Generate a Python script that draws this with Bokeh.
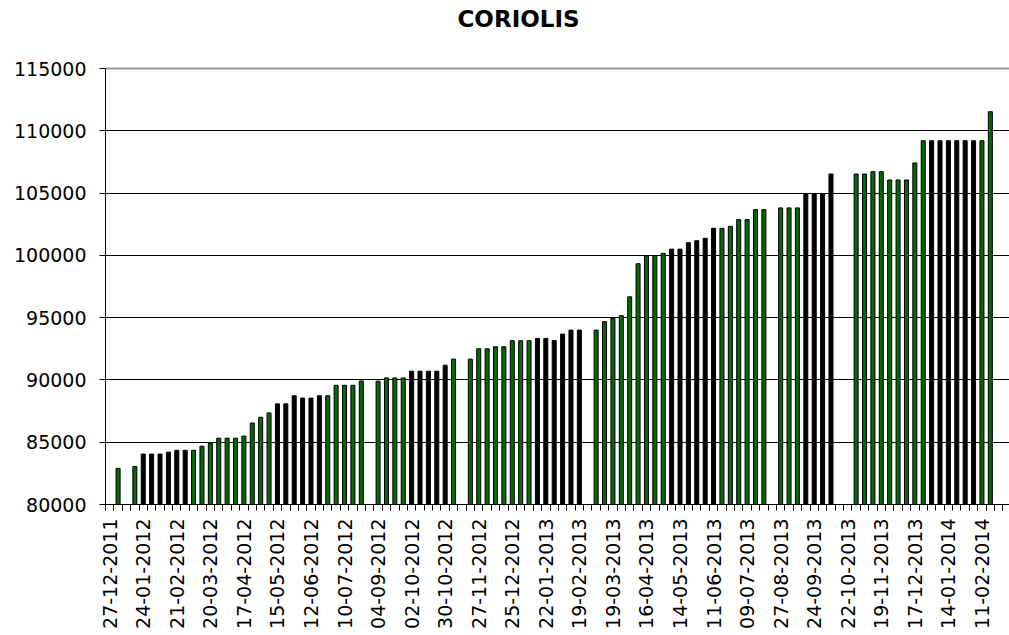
import math
from bokeh.plotting import figure
from bokeh.models import Range1d, FixedTicker, Span, BasicTickFormatter, ColumnDataSource, Label
from bokeh.embed import file_html
from bokeh.resources import INLINE

# ---- data -------------------------------------------------------------
title_text = "CORIOLIS"

# labels shown on the category axis (every 4th category)
tick_dates = [
    "27-12-2011", "24-01-2012", "21-02-2012", "20-03-2012", "17-04-2012",
    "15-05-2012", "12-06-2012", "10-07-2012", "04-09-2012", "02-10-2012",
    "30-10-2012", "27-11-2012", "25-12-2012", "22-01-2013", "19-02-2013",
    "19-03-2013", "16-04-2013", "14-05-2013", "11-06-2013", "09-07-2013",
    "27-08-2013", "24-09-2013", "22-10-2013", "19-11-2013", "17-12-2013",
    "14-01-2014", "11-02-2014",
]

# one value per weekly category (None = no value that week)
values = [
    None, 82900, None, 83050, 84050, 84050, 84050, 84200, 84350, 84350,
    84350, 84680, 84920, 85320, 85320, 85320, 85490, 86540, 87000, 87350,
    88080, 88080, 88730, 88540, 88540, 88730, 88730, 89570, 89570, 89570,
    89920, None, 89900, 90160, 90160, 90160, 90700, 90700, 90700, 90700,
    91180, 91670, None, 91670, 92500, 92500, 92660, 92660, 93150, 93150,
    93150, 93330, 93330, 93170, 93680, 94000, 94000, None, 94000, 94680,
    94950, 95160, 96670, 99330, 99970, 99970, 100160, 100500, 100500, 101020,
    101180, 101370, 102170, 102170, 102330, 102870, 102870, 103670, 103670, None,
    103810, 103810, 103810, 104970, 104970, 104970, 106530, None, None, 106530,
    106530, 106720, 106720, 106050, 106050, 106050, 107420, 109200, 109200, 109200,
    109200, 109200, 109200, 109200, 109200, 111530, None,
]

# value axis
axis_min, axis_max, axis_step = 80000, 115000, 5000

# appearance of the bars in the picture (G = green fill, K = black fill)
shade_runs = [("G", 4), ("K", 6), ("G", 10), ("K", 6), ("G", 10), ("K", 5),
              ("G", 10), ("K", 6), ("G", 10), ("K", 6), ("G", 10), ("K", 6),
              ("G", 9), ("K", 6), ("G", 3)]

# ---- build ------------------------------------------------------------
GREEN = "#076807"
FONT = "DejaVu Sans"

shades = "".join(s * n for s, n in shade_runs)
xs = [i for i, v in enumerate(values) if v is not None]
tops = [values[i] for i in xs]
colors = [GREEN if shades[i] == "G" else "#000000" for i in xs]
src = ColumnDataSource(dict(x=xs, top=tops, color=colors))

# geometry (pixels)
fig_w, fig_h = 1009, 635
border_left, border_bottom = 105, 131
axis_top_px = 68            # where the top of the value axis sits
slot_px = 8.387             # width of one category
frame_w = fig_w - border_left
frame_h = fig_h - border_bottom
px_per_unit = (frame_h - axis_top_px) / (axis_max - axis_min)

x_start = -0.5
x_end = x_start + frame_w / slot_px
y_start = axis_min
y_end = axis_min + frame_h / px_per_unit   # frame extends up to hold the title

p = figure(width=fig_w, height=fig_h, output_backend="svg", toolbar_location=None,
           x_range=Range1d(x_start, x_end), y_range=Range1d(y_start, y_end),
           min_border_left=border_left, min_border_right=0,
           min_border_top=0, min_border_bottom=border_bottom)
p.outline_line_color = None
p.background_fill_color = "white"
p.border_fill_color = "white"

# grid
p.xgrid.visible = False
p.ygrid.ticker = FixedTicker(ticks=list(range(axis_min + axis_step, axis_max, axis_step)))
p.ygrid.grid_line_color = "#000000"
p.ygrid.grid_line_width = 1
p.add_layout(Span(location=axis_max, dimension="width", line_color="#9a9a9a", line_width=2))

# bars
p.vbar(x="x", top="top", bottom=axis_min, width=0.48, fill_color="color",
       line_color="#000000", line_width=1, source=src)

# title (pixel position converted to data space)
title_cx_px = 518 - border_left
title_cy_px = 18
p.add_layout(Label(x=x_start + title_cx_px / slot_px,
                   y=y_start + (frame_h - title_cy_px) / px_per_unit,
                   text=title_text, text_font=FONT, text_font_style="bold",
                   text_font_size="23px", text_color="#000000",
                   text_align="center", text_baseline="middle"))

# y axis
ya = p.yaxis[0]
ya.bounds = (axis_min, axis_max)
ya.ticker = FixedTicker(ticks=list(range(axis_min, axis_max + 1, axis_step)))
ya.formatter = BasicTickFormatter(use_scientific=False)
ya.major_label_text_font = FONT
ya.major_label_text_font_size = "19px"
ya.major_label_text_color = "#000000"
ya.major_tick_out = 6
ya.major_tick_in = 0
ya.minor_tick_out = 0
ya.minor_tick_in = 0
ya.major_label_standoff = 13
ya.axis_line_color = "#000000"
ya.major_tick_line_color = "#000000"

# x axis
xa = p.xaxis[0]
label_pos = [4 * k for k in range(len(tick_dates))]
xa.ticker = FixedTicker(ticks=label_pos,
                        minor_ticks=[i - 0.5 for i in range(len(values) + 1)])
xa.major_label_overrides = {pos: lab for pos, lab in zip(label_pos, tick_dates)}
xa.major_label_orientation = math.pi / 2
xa.major_label_text_font = FONT
xa.major_label_text_font_size = "19px"
xa.major_label_text_color = "#000000"
xa.major_tick_out = 0
xa.major_tick_in = 0
xa.minor_tick_out = 6
xa.minor_tick_in = 0
xa.minor_tick_line_color = "#000000"
xa.major_label_standoff = 8
xa.axis_line_color = "#000000"

open("out.html", "w").write(file_html(p, INLINE))
